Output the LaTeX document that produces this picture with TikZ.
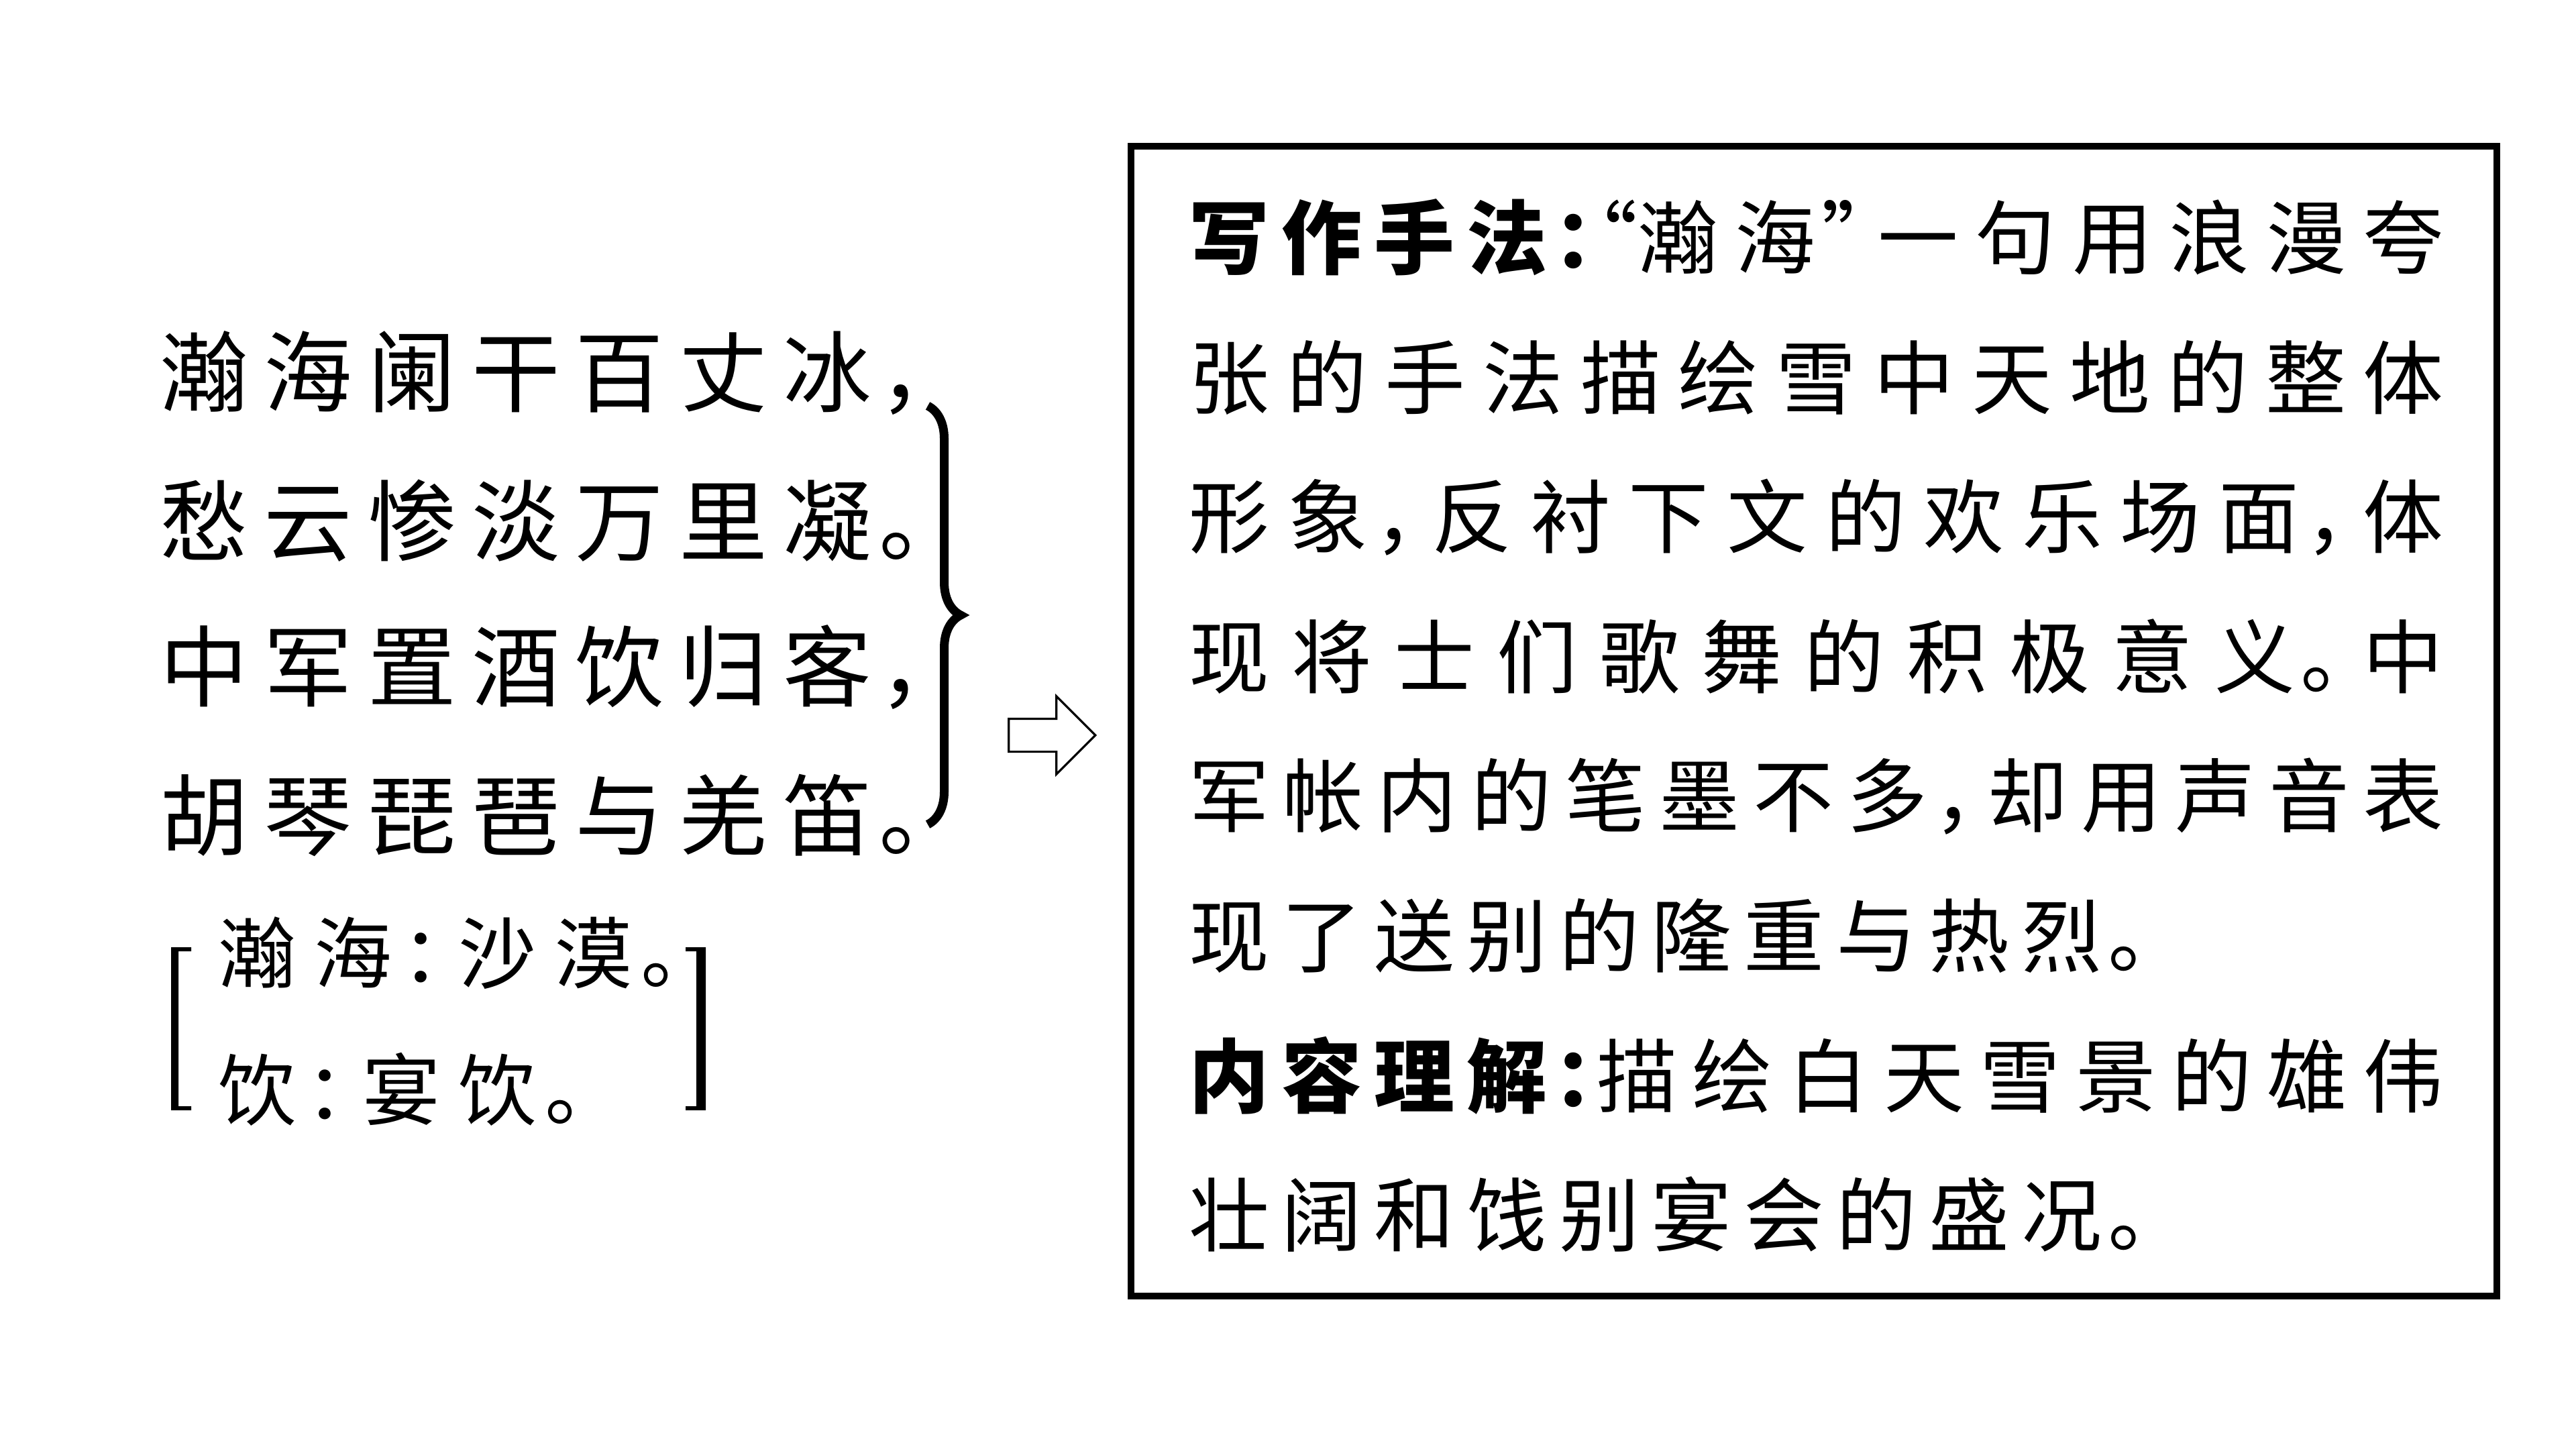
\documentclass[tikz,border=0pt]{standalone}
\usepackage{fontspec}
\setmainfont{Noto Sans CJK SC}[RawFeature={+halt}]
\usetikzlibrary{shapes.arrows,decorations.pathreplacing}
% gap between han characters
\newskip\cjkgap
\XeTeXinterchartokenstate=1
\chardef\hanclass=7
\chardef\punclass=8
\count255="4E00
\loop\XeTeXcharclass\count255=\hanclass\ifnum\count255<"9FFF\advance\count255 by 1\repeat
\XeTeXcharclass"FF0C=\punclass \XeTeXcharclass"3002=\punclass
\XeTeXcharclass"FF1A=\punclass \XeTeXcharclass"201D=\punclass
\XeTeXinterchartoks\hanclass\hanclass={\hskip\cjkgap}
\XeTeXinterchartoks\hanclass\punclass={\hskip0.5\cjkgap}
\XeTeXinterchartoks\punclass\hanclass={\hskip\cjkgap}
\newcommand\poemfont{\fontsize{37.5pt}{40pt}\selectfont\cjkgap=0.23cm\relax}
\newcommand\notefont{\fontsize{33pt}{36pt}\selectfont\cjkgap=0.27cm\relax}
\newcommand\bodyfont{\fontsize{34.1pt}{37pt}\selectfont\cjkgap=0.18cm\relax}
\newlength\fullw \setlength\fullw{18.70cm}
\newcommand\fullline[1]{\makebox[\fullw][s]{\cjkgap=0.18cm plus 1fil\relax #1}}
\newcommand\headword[1]{{\bfseries\cjkgap=0.18cm\relax #1}\hskip 0pt plus 1fil\relax}
\begin{document}
\begin{tikzpicture}[line join=miter,
    poem/.style={anchor=west,inner sep=0pt,font=\poemfont},
    note/.style={anchor=west,inner sep=0pt,font=\notefont},
    body/.style={anchor=west,inner sep=0pt,font=\bodyfont},
    frame/.style={draw,line width=0.1cm,minimum width=20.36cm,minimum height=17.14cm,inner sep=0pt}]
  \fill[white] (0,0) rectangle (38.4,-21.6);
  \useasboundingbox (0,0) rectangle (38.4,-21.6);
  % the poem
  \node[poem] (line1) at (2.38,-5.56) {瀚海阑干百丈冰，};
  \node[poem] (line2) at (2.38,-7.76) {愁云惨淡万里凝。};
  \node[poem] (line3) at (2.38,-9.95) {中军置酒饮归客，};
  \node[poem] (line4) at (2.38,-12.15) {胡琴琵琶与羌笛。};
  \coordinate (bracetop) at (13.83,-6.05);
  \coordinate (bracebot) at (13.83,-12.29);
  \draw[line width=0.13cm,decorate,decoration={brace,amplitude=0.49cm}] (bracetop) -- (bracebot);
  % notes
  \node[note] (note1) at (3.25,-14.21) {瀚海：沙漠。};
  \node[note] (note2) at (3.25,-16.24) {饮：宴饮。};
  \fill (2.55,-14.12) -- (2.85,-14.12) -- (2.85,-14.18) -- (2.66,-14.18) -- (2.66,-16.49)
    -- (2.85,-16.49) -- (2.85,-16.55) -- (2.55,-16.55) -- cycle;
  \fill (10.52,-14.12) -- (10.22,-14.12) -- (10.22,-14.18) -- (10.38,-14.18) -- (10.38,-16.49)
    -- (10.22,-16.49) -- (10.22,-16.55) -- (10.52,-16.55) -- cycle;
  \node[single arrow,draw,line width=0.9pt,inner xsep=0pt,inner ysep=0.23cm,minimum height=1.29cm,
    single arrow head extend=0.335cm] (goto) at (15.56,-10.96) {};
  % the comment box
  \node[frame] (memo) at (27.04,-10.75) {};
  \node[body] (text1) at (17.72,-3.54) {\fullline{\headword{写作手法：}“瀚海”一句用浪漫夸}};
  \node[body] (text2) at (17.72,-5.63) {\fullline{张的手法描绘雪中天地的整体}};
  \node[body] (text3) at (17.72,-7.71) {\fullline{形象，反衬下文的欢乐场面，体}};
  \node[body] (text4) at (17.72,-9.79) {\fullline{现将士们歌舞的积极意义。中}};
  \node[body] (text5) at (17.72,-11.87) {\fullline{军帐内的笔墨不多，却用声音表}};
  \node[body] (text6) at (17.72,-13.95) {现了送别的隆重与热烈。};
  \node[body] (text7) at (17.72,-16.03) {\fullline{\headword{内容理解：}描绘白天雪景的雄伟}};
  \node[body] (text8) at (17.72,-18.10) {壮阔和饯别宴会的盛况。};
\end{tikzpicture}
\end{document}
